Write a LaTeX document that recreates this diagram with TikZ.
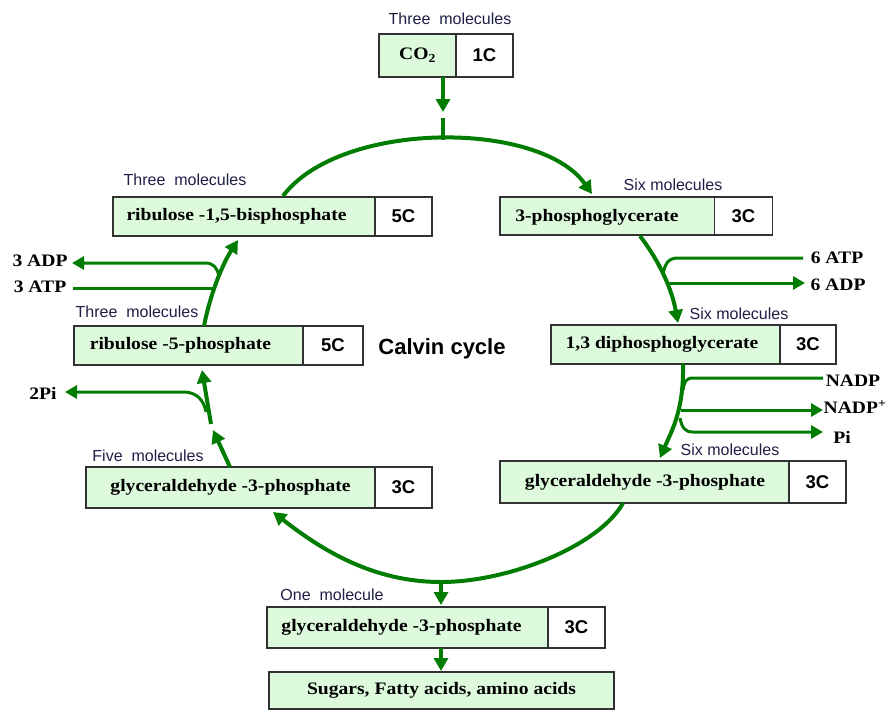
\documentclass[tikz,border=0pt]{standalone}
\usepackage{fontspec}
\setmainfont{Liberation Serif}
\setsansfont{Liberation Sans}
\newfontfamily\bx[FakeStretch=1.12]{Liberation Serif}
\usetikzlibrary{arrows.meta}
\definecolor{gfill}{RGB}{221,250,221}
\definecolor{garr}{RGB}{0,125,0}
\definecolor{lbl}{RGB}{30,30,70}
\definecolor{bord}{RGB}{50,50,50}
\begin{document}
\begin{tikzpicture}[x=1pt,y=-1pt,
 gbox/.style={draw=bord, line width=1.3pt, fill=gfill, inner sep=0pt},
 btext/.style={inner sep=0pt, font=\bx\bfseries\fontsize{17.5}{20}\selectfont},
 wbox/.style={draw=bord, line width=1.3pt, fill=white, inner sep=0pt, font=\sffamily\bfseries\fontsize{18.5}{20}\selectfont},
 mol/.style={font=\sffamily\fontsize{16}{18}\selectfont, text=lbl, inner sep=0pt},
 side/.style={font=\bx\bfseries\fontsize{17.5}{20}\selectfont, inner sep=0pt},
 flow/.style={draw=garr, line width=4pt, -{Triangle[length=13pt,width=14pt]}},
 plain/.style={draw=garr, line width=4pt},
 branch/.style={draw=garr, line width=3pt},
 thin/.style={draw=garr, line width=3pt, -{Triangle[length=12pt,width=13pt]}},
]
\useasboundingbox (0,0) rectangle (888,709);

% boxes
\node[gbox, minimum width=77pt, minimum height=43pt] (co2) at (417.5,55.5) {};
\node[btext] (co2t) at (417.5,55.5) {CO\textsubscript{2}};
\node[wbox, minimum width=57pt, minimum height=43pt] (co2c) at (484.5,55.5) {1C};
\node[gbox, minimum width=262pt, minimum height=39pt] (rubp) at (244,216.5) {};
\node[btext] (rubpt) at (236.5,216.5) {ribulose -1,5-bisphosphate};
\node[wbox, minimum width=57pt, minimum height=39pt] (rubpc) at (403.5,216.5) {5C};
\node[gbox, minimum width=215pt, minimum height=38pt] (pga) at (607.5,216) {};
\node[btext] (pgat) at (597,217) {3-phosphoglycerate};
\node[wbox, minimum width=58pt, minimum height=38pt] (pgac) at (743.5,216) {3C};
\node[gbox, minimum width=229pt, minimum height=39pt] (dpg) at (665.5,344.5) {};
\node[btext] (dpgt) at (662,344.5) {1,3 diphosphoglycerate};
\node[wbox, minimum width=56pt, minimum height=39pt] (dpgc) at (808,344.5) {3C};
\node[gbox, minimum width=289pt, minimum height=42pt] (gR) at (644.5,482) {};
\node[btext] (gRt) at (645,482) {glyceraldehyde -3-phosphate};
\node[wbox, minimum width=57pt, minimum height=42pt] (gRc) at (817.5,482) {3C};
\node[gbox, minimum width=289pt, minimum height=41pt] (gL) at (230.5,487.5) {};
\node[btext] (gLt) at (230.5,487.5) {glyceraldehyde -3-phosphate};
\node[wbox, minimum width=57pt, minimum height=41pt] (gLc) at (403.5,487.5) {3C};
\node[gbox, minimum width=229pt, minimum height=39pt] (ru5p) at (188.5,345.5) {};
\node[btext] (ru5pt) at (180.5,345.5) {ribulose -5-phosphate};
\node[wbox, minimum width=60pt, minimum height=39pt] (ru5pc) at (333,345.5) {5C};
\node[gbox, minimum width=281pt, minimum height=41pt] (gB) at (407.5,627.5) {};
\node[btext] (gBt) at (401.5,627.5) {glyceraldehyde -3-phosphate};
\node[wbox, minimum width=57pt, minimum height=41pt] (gBc) at (576.5,627.5) {3C};
\node[gbox, minimum width=345pt, minimum height=37pt] (sug) at (441.5,690.5) {};
\node[btext] (sugt) at (441.5,690.5) {Sugars, Fatty acids, amino acids};

% molecule labels
\node[mol] (l1) at (450,19) {Three\ \ molecules};
\node[mol] (l2) at (185,180) {Three\ \ molecules};
\node[mol] (l3) at (673,185) {Six molecules};
\node[mol] (l4) at (739,314) {Six molecules};
\node[mol] (l5) at (730,450) {Six molecules};
\node[mol] (l6) at (137,312) {Three\ \ molecules};
\node[mol] (l7) at (148,456) {Five\ \ molecules};
\node[mol] (l8) at (332,595) {One\ \ molecule};
\node[font=\sffamily\bfseries\fontsize{22}{24}\selectfont, inner sep=0pt] (cc) at (442,349) {Calvin cycle};

% side labels
\node[side] (atp6) at (837,258) {6 ATP};
\node[side] (adp6) at (838,285) {6 ADP};
\node[side] (nadp) at (853,381) {NADP};
\node[side] (nadpp) at (855,407) {NADP\textsuperscript{+}};
\node[side] (pi) at (842,437) {Pi};
\node[side] (adp3) at (40,261) {3 ADP};
\node[side] (atp3) at (40,287) {3 ATP};
\node[side] (pi2) at (43,393) {2Pi};

% coordinates
\coordinate (co2out) at (443,77);
\coordinate (co2tip) at (443,112);
\coordinate (jt) at (443,118);
\coordinate (top) at (443,140);
\coordinate (rubpout) at (283,196);
\coordinate (pgain) at (592,194);
\coordinate (pgaout) at (640,236);
\coordinate (dpgin) at (678,323);
\coordinate (atpj) at (663,274);
\coordinate (atpe) at (803,258);
\coordinate (adpj) at (668,283);
\coordinate (adpe) at (805,283);
\coordinate (dpgout) at (683,364);
\coordinate (gRin) at (660,458);
\coordinate (nadpj) at (683,390);
\coordinate (nadpe) at (823,378);
\coordinate (nadppj) at (681,410);
\coordinate (nadppe) at (823,410);
\coordinate (pij) at (680,418);
\coordinate (pie) at (823,432);
\coordinate (gRout) at (623,503);
\coordinate (bot) at (441,582);
\coordinate (gLin) at (273,512);
\coordinate (gBin) at (441,605);
\coordinate (gBout) at (441,648);
\coordinate (sugin) at (441,671);
\coordinate (gLout) at (230,467);
\coordinate (midtip) at (213,430);
\coordinate (midst) at (211,424);
\coordinate (ru5pin) at (202,370);
\coordinate (pi2j) at (206,412);
\coordinate (pi2e) at (65,392);
\coordinate (ru5pout) at (204,326);
\coordinate (rubpin) at (238,240);
\coordinate (adp3j) at (219,276);
\coordinate (adp3e) at (72,263);
\coordinate (atp3e) at (73,288);
\coordinate (atp3j) at (214,288);

% connectors
\draw[flow] (co2out) -- (co2tip);
\draw[plain] (jt) -- (top);
\draw[flow] (rubpout) .. controls (340,120) and (540,120) .. (pgain);

\draw[flow] (pgaout) .. controls (660,262) and (672,290) .. (dpgin);
\draw[branch] (atpe) -- (678,258) .. controls (668,258) and (665,264) .. (atpj);
\draw[thin] (adpj) -- (adpe);

\draw[flow] (dpgout) .. controls (684,410) and (672,430) .. (gRin);
\draw[branch] (nadpe) -- (693,378) .. controls (686,378) and (684,382) .. (nadpj);
\draw[thin] (nadppj) -- (nadppe);
\draw[thin] (pij) .. controls (682,428) and (685,432) .. (693,432) -- (pie);

\draw[flow] (gRout) .. controls (600,545) and (510,582) .. (bot) .. controls (370,582) and (318,547) .. (gLin);
\draw[flow] (bot) -- (gBin);
\draw[flow] (gBout) -- (sugin);

\draw[flow] (gLout) -- (midtip);
\draw[flow] (midst) -- (ru5pin);
\draw[thin] (pi2j) .. controls (204,400) and (196,392) .. (184,392) -- (pi2e);

\draw[flow] (ru5pout) .. controls (210,295) and (222,265) .. (rubpin);
\draw[thin] (adp3j) .. controls (217,268) and (214,263) .. (205,263) -- (adp3e);
\draw[branch] (atp3e) -- (atp3j);
\end{tikzpicture}
\end{document}
